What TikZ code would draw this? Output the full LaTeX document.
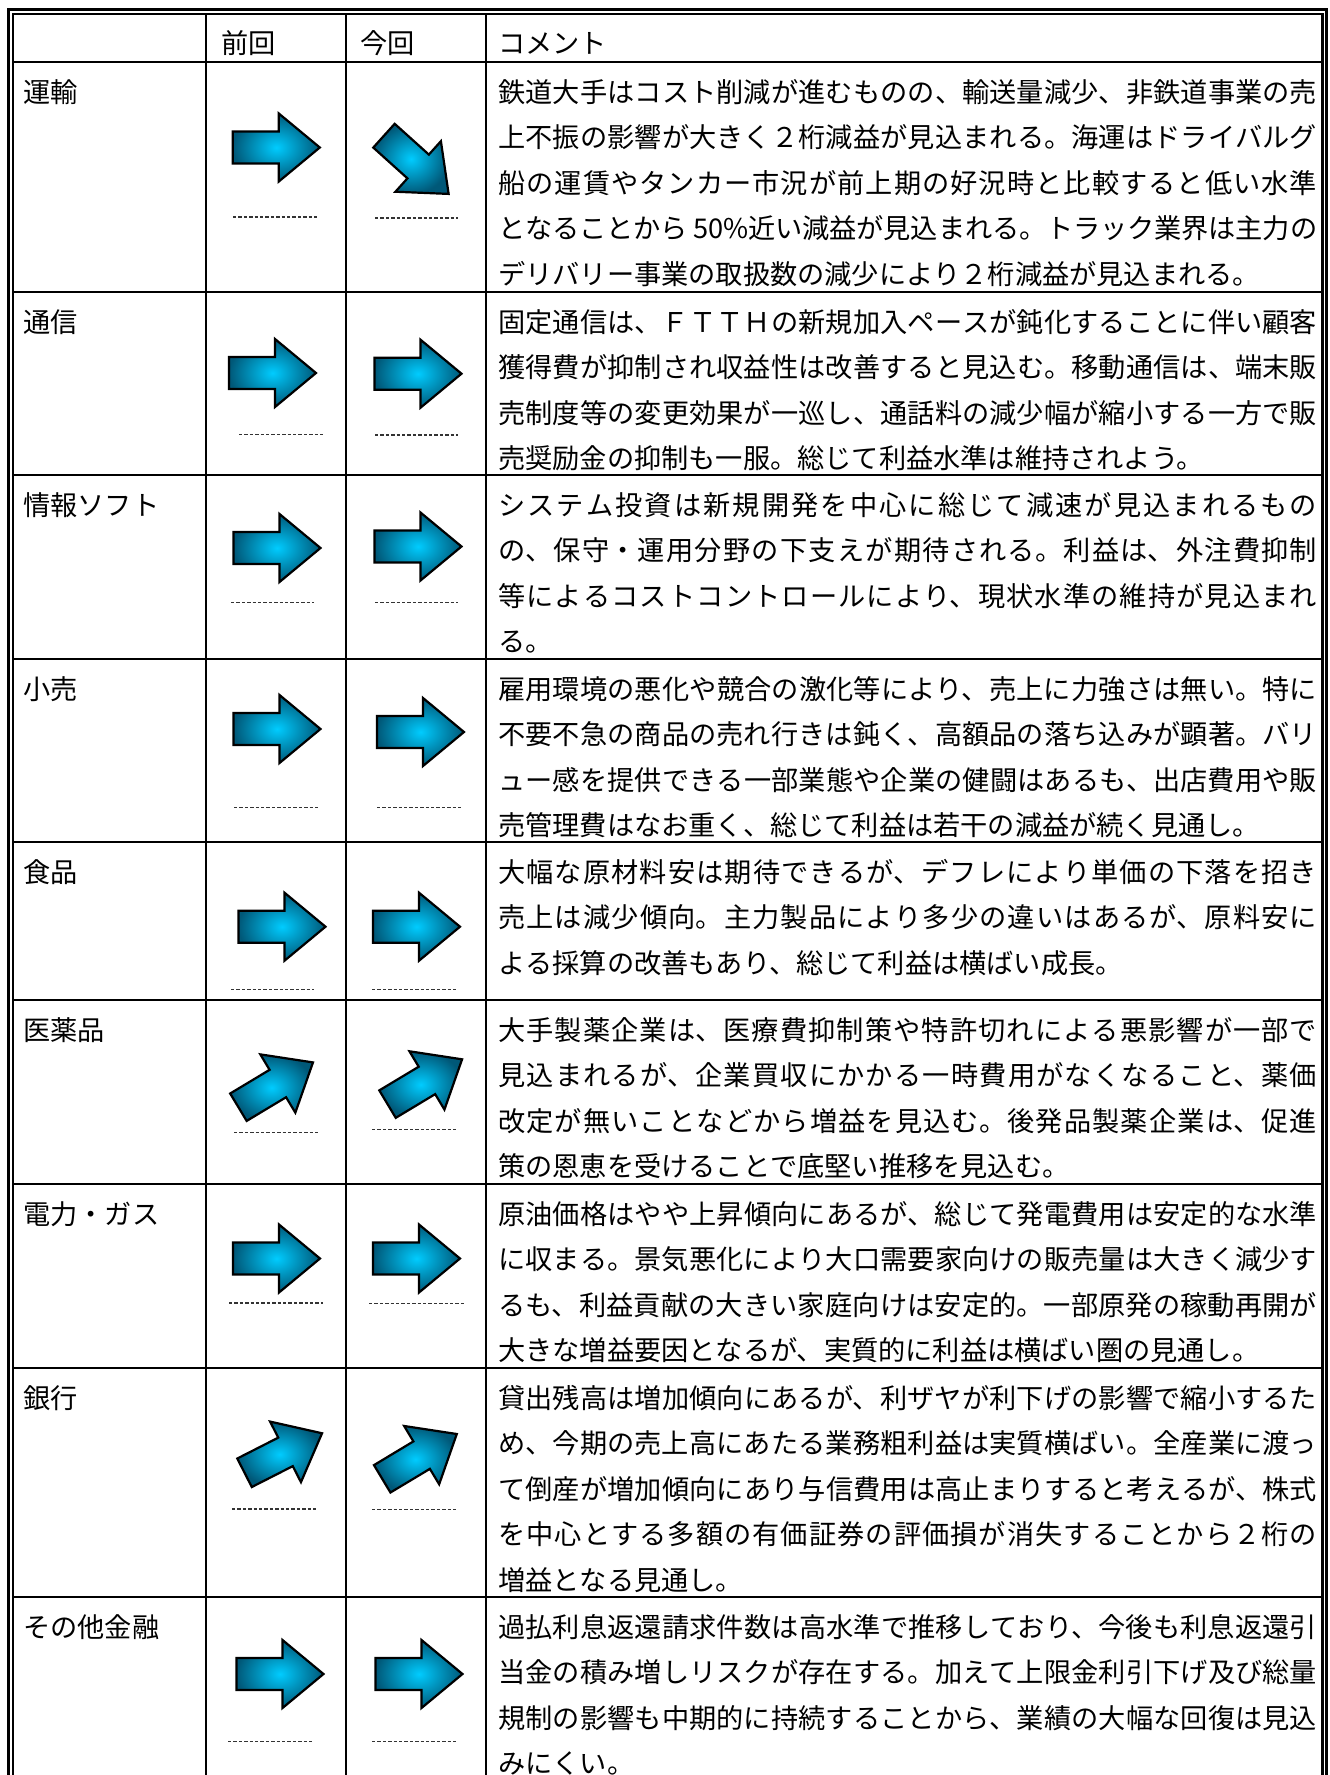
\documentclass[tikz,border=0pt]{standalone}
\usepackage{fontspec}
\setmainfont{Noto Sans CJK JP}
\XeTeXlinebreaklocale "ja"
\XeTeXlinebreakskip=0pt plus 3pt minus 0.6pt
\definecolor{ARL}{RGB}{0,204,255}
\definecolor{ARD}{RGB}{0,88,120}
\tikzset{
    TX/.style ={inner sep=0pt, anchor=base west, font=\fontsize{27.2}{45.5}\selectfont},
    CM/.style ={TX, text width=819pt, align=justify},
    GL/.style ={line width=2.2pt},
    DS/.style ={line width=1.1pt, black!80, dash pattern=on 3.4pt off 2pt},
    AR/.pic ={\draw[line width=2.2pt, inner color=ARL, outer color=ARD] (-43.5,-16) -- (2.5,-16) -- (2.5,-34) -- (43.5,0) -- (2.5,34) -- (2.5,16) -- (-43.5,16) -- cycle;}}

\begin{document}
\begin{tikzpicture}[x=1pt,y=-1pt]
        \useasboundingbox (0,0) rectangle (1330,1775);
        \draw[GL] (8.5,1780) -- (8.5,9.5) -- (1326.5,9.5) -- (1326.5,1780);
        \draw[GL] (12.7,1780) -- (12.7,13.7) -- (1322.5,13.7) -- (1322.5,1780);
        \draw[GL] (206,13.7) -- (206,1780);
        \draw[GL] (346,13.7) -- (346,1780);
        \draw[GL] (486,13.7) -- (486,1780);
        \draw[GL] (12.7,62) -- (1322.5,62);
        \draw[GL] (12.7,292) -- (1322.5,292);
        \draw[GL] (12.7,475) -- (1322.5,475);
        \draw[GL] (12.7,659) -- (1322.5,659);
        \draw[GL] (12.7,842) -- (1322.5,842);
        \draw[GL] (12.7,1000) -- (1322.5,1000);
        \draw[GL] (12.7,1184) -- (1322.5,1184);
        \draw[GL] (12.7,1368) -- (1322.5,1368);
        \draw[GL] (12.7,1597) -- (1322.5,1597);
        \node[TX] (h1) at(221,53){前回};
        \node[TX] (h2) at(360,53){今回};
        \node[TX] (h3) at(498,53){コメント};
        \node[TX] (l1) at(23,102){運輸};
        \node[TX] (l2) at(23,332){通信};
        \node[TX] (l3) at(23,515){情報ソフト};
        \node[TX] (l4) at(23,699){小売};
        \node[TX] (l5) at(23,882){食品};
        \node[TX] (l6) at(23,1040){医薬品};
        \node[TX] (l7) at(23,1224){電力・ガス};
        \node[TX] (l8) at(23,1408){銀行};
        \node[TX] (l9) at(23,1637){その他金融};
        \pic (p1) at(276.3,147.5){AR};
        \pic (p2) at(272.5,373){AR};
        \pic (p3) at(277,548){AR};
        \pic (p4) at(277,729){AR};
        \pic (p5) at(282,926.7){AR};
        \pic[rotate=31] (p6) at(275.7,1084.8){AR};
        \pic (p7) at(276.5,1258.5){AR};
        \pic[rotate=27] (p8) at(283.3,1453){AR};
        \pic (p9) at(280,1674){AR};
        \pic[rotate=-42] (n1) at(416.3,164.8){AR};
        \pic (n2) at(418,373.7){AR};
        \pic (n3) at(418,546.5){AR};
        \pic (n4) at(420.5,732){AR};
        \pic (n5) at(416.5,926.7){AR};
        \pic[rotate=31] (n6) at(424.8,1081.7){AR};
        \pic (n7) at(416.5,1258.5){AR};
        \pic[rotate=31] (n8) at(419.5,1456.4){AR};
        \pic (n9) at(419,1674){AR};
        \draw[DS] (233,217) -- (318,217);
        \draw[DS] (239,434.6) -- (323,434.6);
        \draw[DS] (231,602.8) -- (314,602.8);
        \draw[DS] (234,807.7) -- (318,807.7);
        \draw[DS] (231,989.8) -- (314,989.8);
        \draw[DS] (234,1132.7) -- (318,1132.7);
        \draw[DS] (229,1303) -- (323,1303);
        \draw[DS] (232,1509) -- (316,1509);
        \draw[DS] (228,1741.8) -- (312,1741.8);
        \draw[DS] (375,218) -- (458,218);
        \draw[DS] (375,435) -- (458,435);
        \draw[DS] (375,602.8) -- (458,602.8);
        \draw[DS] (377,807.7) -- (461,807.7);
        \draw[DS] (372,989.8) -- (456,989.8);
        \draw[DS] (372,1129.3) -- (456,1129.3);
        \draw[DS] (369,1303.2) -- (464,1303.2);
        \draw[DS] (372,1509.3) -- (456,1509.3);
        \draw[DS] (372,1741.8) -- (456,1741.8);
        \node[CM] (c1) at(498,102){鉄道大手はコスト削減が進むものの、輸送量減少、非鉄道事業の売\linebreak
上不振の影響が大きく２桁減益が見込まれる。海運はドライバルグ\linebreak
船の運賃やタンカー市況が前上期の好況時と比較すると低い水準\linebreak
となることから 50\%近い減益が見込まれる。トラック業界は主力の\linebreak
デリバリー事業の取扱数の減少により２桁減益が見込まれる。};
        \node[CM] (c2) at(498,332){固定通信は、ＦＴＴＨの新規加入ペースが鈍化することに伴い顧客\linebreak
獲得費が抑制され収益性は改善すると見込む。移動通信は、端末販\linebreak
売制度等の変更効果が一巡し、通話料の減少幅が縮小する一方で販\linebreak
売奨励金の抑制も一服。総じて利益水準は維持されよう。};
        \node[CM] (c3) at(498,515){システム投資は新規開発を中心に総じて減速が見込まれるもの\linebreak
の、保守・運用分野の下支えが期待される。利益は、外注費抑制\linebreak
等によるコストコントロールにより、現状水準の維持が見込まれ\linebreak
る。};
        \node[CM] (c4) at(498,699){雇用環境の悪化や競合の激化等により、売上に力強さは無い。特に\linebreak
不要不急の商品の売れ行きは鈍く、高額品の落ち込みが顕著。バリ\linebreak
ュー感を提供できる一部業態や企業の健闘はあるも、出店費用や販\linebreak
売管理費はなお重く、総じて利益は若干の減益が続く見通し。};
        \node[CM] (c5) at(498,882){大幅な原材料安は期待できるが、デフレにより単価の下落を招き\linebreak
売上は減少傾向。主力製品により多少の違いはあるが、原料安に\linebreak
よる採算の改善もあり、総じて利益は横ばい成長。};
        \node[CM] (c6) at(498,1040){大手製薬企業は、医療費抑制策や特許切れによる悪影響が一部で\linebreak
見込まれるが、企業買収にかかる一時費用がなくなること、薬価\linebreak
改定が無いことなどから増益を見込む。後発品製薬企業は、促進\linebreak
策の恩恵を受けることで底堅い推移を見込む。};
        \node[CM] (c7) at(498,1224){原油価格はやや上昇傾向にあるが、総じて発電費用は安定的な水準\linebreak
に収まる。景気悪化により大口需要家向けの販売量は大きく減少す\linebreak
るも、利益貢献の大きい家庭向けは安定的。一部原発の稼動再開が\linebreak
大きな増益要因となるが、実質的に利益は横ばい圏の見通し。};
        \node[CM] (c8) at(498,1408){貸出残高は増加傾向にあるが、利ザヤが利下げの影響で縮小するた\linebreak
め、今期の売上高にあたる業務粗利益は実質横ばい。全産業に渡っ\linebreak
て倒産が増加傾向にあり与信費用は高止まりすると考えるが、株式\linebreak
を中心とする多額の有価証券の評価損が消失することから２桁の\linebreak
増益となる見通し。};
        \node[CM] (c9) at(498,1637){過払利息返還請求件数は高水準で推移しており、今後も利息返還引\linebreak
当金の積み増しリスクが存在する。加えて上限金利引下げ及び総量\linebreak
規制の影響も中期的に持続することから、業績の大幅な回復は見込\linebreak
みにくい。};
    \end{tikzpicture}
\end{document}
